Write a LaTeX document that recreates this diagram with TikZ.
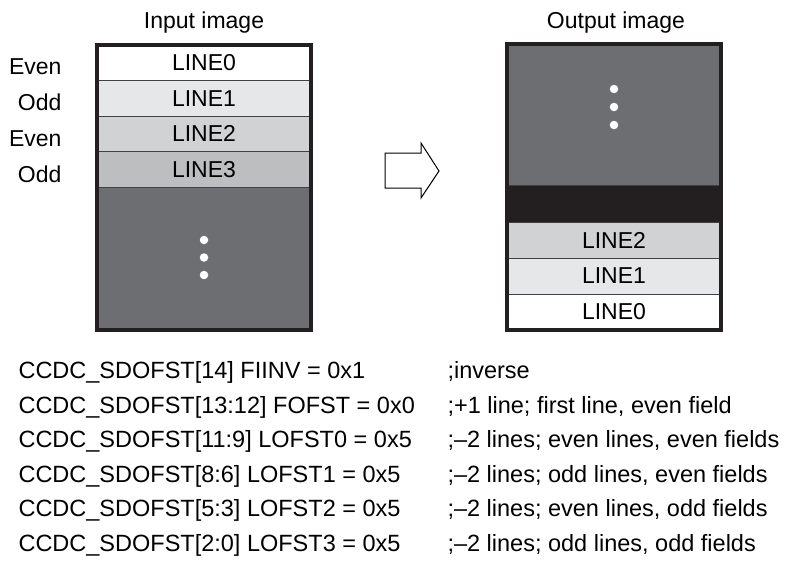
\documentclass[tikz,border=0pt]{standalone}
\usepackage{fontspec}
\setmainfont{Liberation Sans}
\usetikzlibrary{positioning}
\definecolor{frameclr}{HTML}{231F20}
\definecolor{edgeclr}{HTML}{414042}
\definecolor{shadeA}{HTML}{E6E7E8}
\definecolor{shadeB}{HTML}{D1D2D4}
\definecolor{shadeC}{HTML}{BCBEC0}
\definecolor{restclr}{HTML}{6D6E71}
\newcommand{\diagfont}{\fontsize{23}{27}\selectfont}
\newcommand{\regfont}{\fontsize{23.5}{28}\selectfont}
\begin{document}
\begin{tikzpicture}[x=1pt, y=-1pt,
        band/.style={draw=edgeclr, line width=0.8pt, minimum width=214pt, minimum height=#1, inner sep=0pt, font=\diagfont},
        frame/.style={draw=frameclr, line width=4pt},
        dot/.style={circle, fill=white, minimum size=8.5pt, inner sep=0pt},
        title/.style={anchor=base, font=\diagfont},
        field/.style={anchor=base east, font=\diagfont},
        reg/.style={anchor=base west, font=\regfont}
      ]
      \useasboundingbox (0,0) rectangle (786,565);

      % input image
      \node[title] (intitle) at (204,28) {Input image};
      \node[band=35.5pt, fill=white] (in0) at (204,62.75) {LINE0};
      \node[band=35.5pt, fill=shadeA] (in1) at (204,98.25) {LINE1};
      \node[band=35.5pt, fill=shadeB] (in2) at (204,133.75) {LINE2};
      \node[band=35.5pt, fill=shadeC] (in3) at (204,169.25) {LINE3};
      \node[band=143pt, fill=restclr] (inrest) at (204,258.5) {};
      \node[dot] (indot1) at (204,240) {};
      \node[dot] (indot2) at (204,257.5) {};
      \node[dot] (indot3) at (204,275) {};
      \draw[frame] (in0.north west) rectangle (inrest.south east);

      \node[field] (even0) at (65,74) {Even};
      \node[field] (odd1) at (65,110) {Odd};
      \node[field] (even2) at (65,146) {Even};
      \node[field] (odd3) at (65,182) {Odd};

      % output image
      \node[title] (outtitle) at (616,28) {Output image};
      \node[band=141pt, fill=restclr] (outrest) at (614,114.5) {};
      \node[dot] (outdot1) at (614,89) {};
      \node[dot] (outdot2) at (614,107) {};
      \node[dot] (outdot3) at (614,125) {};
      \node[band=37pt, fill=frameclr] (outblank) at (614,203.5) {};
      \node[band=36pt, fill=shadeB] (out2) at (614,240) {LINE2};
      \node[band=36pt, fill=shadeA] (out1) at (614,276) {LINE1};
      \node[band=36pt, fill=white] (out0) at (614,312) {LINE0};
      \draw[frame] (outrest.north west) rectangle (out0.south east);

      % block arrow
      \draw[line width=1pt, line join=miter] (385,153) -- (421,153) -- (421,143) -- (439,171)
        -- (421,198) -- (421,188) -- (385,188) -- cycle;

      % register settings
      \node[reg] (reg0) at (15,378) {CCDC\_SDOFST[14] FIINV = 0x1};
      \node[reg] (reg1) at (15,413) {CCDC\_SDOFST[13:12] FOFST = 0x0};
      \node[reg] (reg2) at (15,447) {CCDC\_SDOFST[11:9] LOFST0 = 0x5};
      \node[reg] (reg3) at (15,482) {CCDC\_SDOFST[8:6] LOFST1 = 0x5};
      \node[reg] (reg4) at (15,516) {CCDC\_SDOFST[5:3] LOFST2 = 0x5};
      \node[reg] (reg5) at (15,551) {CCDC\_SDOFST[2:0] LOFST3 = 0x5};
      \node[reg] (cmt0) at (444,378) {;inverse};
      \node[reg] (cmt1) at (444,413) {;+1 line; first line, even field};
      \node[reg] (cmt2) at (444,447) {;--2 lines; even lines, even fields};
      \node[reg] (cmt3) at (444,482) {;--2 lines; odd lines, even fields};
      \node[reg] (cmt4) at (444,516) {;--2 lines; even lines, odd fields};
      \node[reg] (cmt5) at (444,551) {;--2 lines; odd lines, odd fields};
    \end{tikzpicture}
\end{document}
